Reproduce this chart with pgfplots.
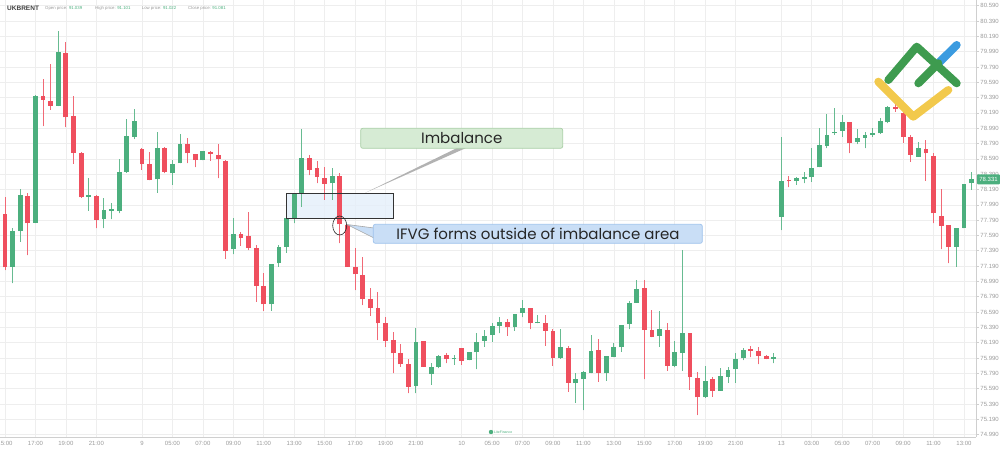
\documentclass[border=0pt]{standalone}
\usepackage{pgfplots}
\pgfplotsset{compat=1.18}
\usepackage{pgfplotstable}
\usepackage{fontspec}
\setmainfont{Liberation Sans}
\newfontfamily\annfont{Poppins}
\definecolor{upc}{HTML}{4CAF7E}
\definecolor{dnc}{HTML}{EF4F5E}
\definecolor{gridc}{HTML}{EEEEEE}
\definecolor{axc}{HTML}{CFCFCF}
\definecolor{labc}{HTML}{9A9A9A}
\definecolor{imbfill}{HTML}{E4EFFA}
\definecolor{gbox}{HTML}{D6EBD4}
\definecolor{gboxd}{HTML}{A9CFA6}
\definecolor{bbox}{HTML}{C9DEF6}
\definecolor{bboxd}{HTML}{9EC2EC}
\definecolor{lgreen}{HTML}{3E9B4F}
\definecolor{lblue}{HTML}{3B9BE0}
\definecolor{lyellow}{HTML}{F2C94C}

\pgfplotstableread{
k o h l c
1 77.182 77.684 76.966 77.648
2 77.648 78.197 77.509 78.118
4 77.757 79.42 77.75 79.411
7 79.284 80.259 79.28 79.981
11 78.096 78.344 77.913 78.114
13 77.801 78.075 77.684 77.919
14 77.910 78.018 77.801 77.929
15 77.909 78.592 77.879 78.415
16 78.419 79.111 78.41 78.885
17 78.876 79.241 78.849 79.080
20 78.323 78.941 78.148 78.732
22 78.402 78.575 78.249 78.519
23 78.532 78.915 78.53 78.784
26 78.575 78.697 78.57 78.689
30 77.409 77.814 77.344 77.605
35 76.691 77.22 76.604 77.218
36 77.227 77.466 77.182 77.443
37 77.443 77.814 77.365 77.814
38 77.814 78.141 77.749 78.141
39 78.141 78.976 77.966 78.605
43 78.271 78.467 78.053 78.366
54 75.625 76.378 75.530 76.203
56 75.781 75.921 75.638 75.869
57 75.877 76.030 75.856 76.016
59 75.973 76.033 75.899 75.990
61 75.964 76.068 75.96 76.065
62 76.065 76.313 75.843 76.203
63 76.216 76.356 76.138 76.278
64 76.291 76.443 76.203 76.408
65 76.412 76.522 76.313 76.464
67 76.391 76.565 76.343 76.561
68 76.582 76.748 76.522 76.639
70 76.445 76.552 76.443 76.458
73 75.986 76.365 75.98 76.130
75 75.660 75.791 75.407 75.712
76 75.712 75.815 75.311 75.812
77 75.798 76.291 75.79 76.082
79 75.791 76.02 75.694 76.016
80 76.007 76.182 76.0 76.130
81 76.130 76.421 76.073 76.421
82 76.434 76.734 76.365 76.712
83 76.712 77.009 76.71 76.891
86 76.281 76.608 76.138 76.365
88 75.886 76.212 75.869 76.065
89 76.060 77.400 75.825 76.321
92 75.477 75.886 75.47 75.694
94 75.563 75.856 75.56 75.755
95 75.746 75.877 75.668 75.834
96 75.843 76.052 75.668 75.977
97 75.986 76.117 75.964 76.095
101 75.981 76.060 75.921 76.007
102 77.835 78.879 77.661 78.301
104 78.301 78.349 78.249 78.336
105 78.331 78.423 78.271 78.357
106 78.349 78.728 78.292 78.475
107 78.480 78.989 78.478 78.771
108 78.758 79.176 78.728 78.902
109 78.924 79.250 78.902 78.945
110 78.954 79.163 78.879 79.067
112 78.806 78.976 78.784 78.866
113 78.866 78.945 78.728 78.898
114 78.906 78.989 78.879 78.932
115 78.924 79.120 78.915 79.084
116 79.067 79.280 79.054 79.263
120 78.618 78.814 78.615 78.728
125 77.443 77.686 77.182 77.684
126 77.684 78.260 77.682 78.258
127 78.271 78.423 78.184 78.331
}\upbars

\pgfplotstableread{
k o h l c
0 77.866 78.096 77.139 77.174
3 78.109 78.148 77.331 77.749
5 79.411 79.629 79.019 79.359
6 79.349 79.829 79.228 79.284
8 79.972 80.120 79.002 79.133
9 79.150 79.411 78.523 78.671
10 78.667 78.675 78.080 78.088
12 78.109 78.115 77.684 77.792
18 78.723 78.73 78.445 78.519
19 78.523 78.680 78.31 78.314
21 78.728 78.74 78.402 78.419
24 78.784 78.859 78.532 78.663
25 78.654 78.66 78.480 78.575
27 78.680 78.689 78.566 78.654
28 78.644 78.784 78.336 78.588
29 78.566 78.57 77.283 77.387
31 77.609 77.631 77.456 77.561
32 77.587 77.900 77.400 77.430
33 77.430 77.466 76.725 76.934
34 76.934 77.096 76.604 76.691
40 78.597 78.641 78.379 78.445
41 78.467 78.566 78.271 78.357
42 78.336 78.480 78.053 78.262
44 78.366 78.409 77.488 77.736
45 77.727 77.73 77.18 77.182
46 77.182 77.422 76.878 77.083
47 77.074 77.313 76.682 76.757
48 76.757 76.900 76.539 76.647
49 76.647 76.856 76.225 76.443
50 76.451 76.530 76.138 76.216
51 76.225 76.334 75.791 76.052
52 76.052 76.173 75.877 75.908
53 75.908 75.973 75.530 75.616
55 76.212 76.215 75.875 75.877
58 76.026 76.052 75.921 75.973
60 76.117 76.12 75.899 75.955
66 76.464 76.496 76.278 76.391
69 76.639 76.64 76.365 76.443
71 76.451 76.552 76.147 76.347
72 76.347 76.365 75.886 75.986
74 76.125 76.147 75.550 75.668
78 76.095 76.234 75.681 75.798
84 76.900 77.009 75.712 76.356
85 76.356 76.617 76.26 76.268
87 76.356 76.451 75.825 75.886
90 76.313 76.32 75.573 75.738
91 75.733 75.812 75.246 75.477
93 75.712 75.746 75.485 75.563
98 76.104 76.147 76.000 76.082
99 76.082 76.130 75.908 76.020
100 76.020 76.025 75.975 75.977
103 78.314 78.366 78.219 78.297
111 79.067 79.070 78.663 78.793
117 79.261 79.319 79.202 79.241
118 79.185 79.250 78.801 78.879
119 78.879 78.902 78.553 78.641
121 78.719 78.836 78.305 78.663
122 78.627 78.663 77.749 77.879
123 77.844 78.193 77.409 77.714
124 77.727 77.730 77.227 77.443
}\downbars

\pgfplotsset{
  candle/.style 2 args={only marks, mark size=0pt, mark options={draw=none, fill=none}, forget plot,
    error bars/.cd, y dir=plus, y explicit, error mark=none,
    error bar style={line width=#1, draw=#2}},
}

\begin{document}
\begin{tikzpicture}
\begin{axis}[
  at={(0pt,12pt)}, anchor=south west,
  width=976pt, height=437pt, scale only axis,
  xmin=-0.657, xmax=127.58, ymin=74.959, ymax=80.664,
  axis x line*=bottom, axis y line*=right,
  axis line style={draw=axc, line width=0.8pt},
  grid=major, major grid style={draw=gridc, line width=0.6pt},
  tick align=outside, major tick length=3pt,
  xtick style={draw=none}, ytick style={draw=axc, line width=0.6pt},
  xtick={0,4,8,12,18,22,26,30,34,38,42,46,50,54,60,64,68,72,76,80,84,88,92,96,102,106,110,114,118,122,126},
  xticklabels={15:00,17:00,19:00,21:00,9,05:00,07:00,09:00,11:00,13:00,15:00,17:00,19:00,21:00,10,05:00,07:00,09:00,11:00,13:00,15:00,17:00,19:00,21:00,13,03:00,05:00,07:00,09:00,11:00,13:00},
  ytick={74.99,75.19,75.39,75.59,75.79,75.99,76.19,76.39,76.59,76.79,76.99,77.19,77.39,77.59,77.79,77.99,78.19,78.39,78.59,78.79,78.99,79.19,79.39,79.59,79.79,79.99,80.19,80.39,80.59},
  /pgf/number format/.cd, fixed, fixed zerofill, precision=3, assume math mode=true, /pgfplots/.cd,
  xticklabel style={font=\fontsize{6}{7}\selectfont, text=labc, inner sep=1.5pt},
  yticklabel style={font=\fontsize{6}{7}\selectfont, text=labc, inner sep=1.2pt},
]
\fill[imbfill, fill opacity=0.8] (axis cs:37,77.815) rectangle (axis cs:51,78.141);
% wicks
\addplot[candle={1pt}{upc!85!white}]
  table[x=k, y=l, y error plus expr={\thisrow{h}-\thisrow{l}}] {\upbars};
\addplot[candle={1pt}{dnc!85!white}]
  table[x=k, y=l, y error plus expr={\thisrow{h}-\thisrow{l}}] {\downbars};
% bodies
\addplot[candle={4.8pt}{upc}]
  table[x=k, y=o, y error plus expr={\thisrow{c}-\thisrow{o}}] {\upbars};
\addplot[candle={4.8pt}{dnc}]
  table[x=k, y=c, y error plus expr={\thisrow{o}-\thisrow{c}}] {\downbars};
\draw[draw=black!80, line width=0.8pt] (axis cs:37,77.815) rectangle (axis cs:51,78.141);
\end{axis}

\begin{scope}[x=1pt, y=-1pt, shift={(0pt,449pt)}]
  % header
  \node[anchor=west, inner sep=0pt, font=\bfseries\fontsize{6.5}{7}\selectfont, text=black!75] at (7,8) {UKBRENT};
  \node[anchor=west, inner sep=0pt, font=\fontsize{4.3}{5}\selectfont, text=labc] at (45,8) {Open price: \textcolor{upc}{91.039}};
  \node[anchor=west, inner sep=0pt, font=\fontsize{4.3}{5}\selectfont, text=labc] at (95,8) {High price: \textcolor{upc}{91.101}};
  \node[anchor=west, inner sep=0pt, font=\fontsize{4.3}{5}\selectfont, text=labc] at (141.7,8) {Low price: \textcolor{upc}{91.022}};
  \node[anchor=west, inner sep=0pt, font=\fontsize{4.3}{5}\selectfont, text=labc] at (188,8) {Close price: \textcolor{upc}{91.081}};
  % current price label
  \fill[upc, rounded corners=1pt] (977,174.3) rectangle (1000,184.3);
  \node[inner sep=0pt, font=\fontsize{6}{7}\selectfont, text=white] at (988.5,179.3) {78.331};
  % imbalance callout
  \fill[black!30] (457,148) -- (466,148) -- (365,193) -- cycle;
  \filldraw[fill=gbox, draw=gboxd, line width=0.7pt, rounded corners=2pt] (360.7,128.3) rectangle (562.7,148.3);
  \node[inner sep=0pt, font=\annfont\fontsize{15}{16}\selectfont, text=black!85] at (461.7,138.3) {Imbalance};
  % IFVG callout
  \filldraw[fill=bbox, draw=black!35, line width=0.6pt] (374,228) -- (347,224.5) -- (374,238);
  \filldraw[fill=bbox, draw=bboxd, line width=0.7pt, rounded corners=2pt] (373.3,224.3) rectangle (702.3,243.3);
  \node[inner sep=0pt, font=\annfont\fontsize{15}{16}\selectfont, text=black!85] at (538,234) {IFVG forms outside of imbalance area};
  \draw[black!85, line width=0.6pt] (339.7,225.5) ellipse [x radius=7pt, y radius=9.5pt];
  % logo
  \draw[lyellow, line width=8pt, line cap=round, line join=round] (878.3,81.7) -- (913.3,116.7) -- (948.3,90);
  \draw[lblue, line width=8pt, line cap=round] (938.3,63.3) -- (956.7,45);
  \draw[lgreen, line width=8pt, line cap=round, line join=round] (888.3,80) -- (916.7,46.7) -- (956.7,83.3);
  \draw[lgreen, line width=8pt, line cap=round] (918.3,83.3) -- (938.3,63.3);
  % watermark
  \fill[upc] (491,432) circle (2.2pt);
  \node[anchor=west, inner sep=0pt, font=\fontsize{3.5}{4}\selectfont, text=upc] at (494,432.5) {LiteFinance};
\end{scope}
\pgfresetboundingbox
\path (0pt,0pt) rectangle (1000pt,449pt);
\end{tikzpicture}
\end{document}
